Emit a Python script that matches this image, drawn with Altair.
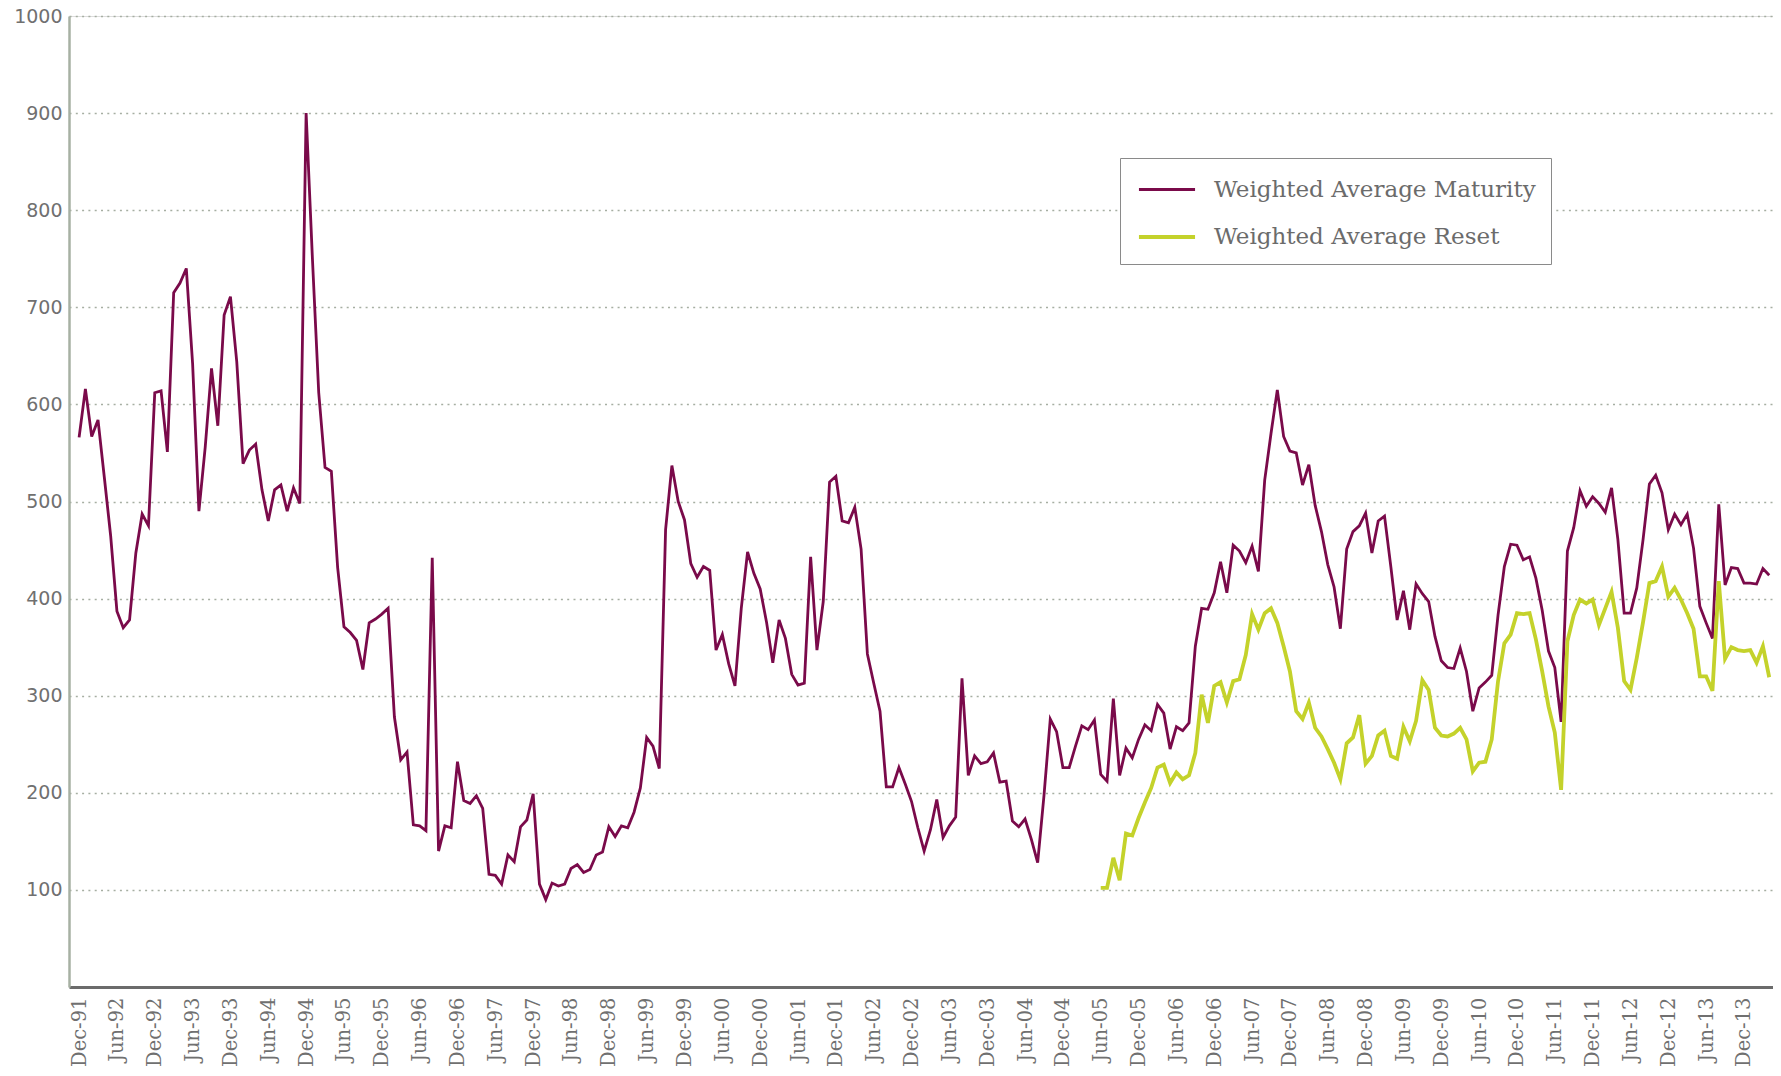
import altair as alt
import pandas as pd

# Weighted Average Maturity, monthly from Dec-91 (index 0) to Apr-14
maturity = [
    566, 616, 567, 584, 525, 465, 387, 370, 378, 447, 487, 475,
    612, 614, 551, 715, 725, 740, 642, 490, 556, 637, 578, 692,
    711, 644, 539, 553, 559, 512, 480, 512, 517, 490, 514, 498,
    900, 750, 612, 535, 531, 432, 371, 365, 357, 327, 375, 379,
    384, 390, 278, 234, 242, 167, 166, 161, 442, 140, 166, 164,
    232, 192, 189, 197, 184, 116, 115, 106, 136, 129, 165, 172,
    199, 106, 90, 107, 104, 106, 122, 126, 118, 121, 136, 139,
    165, 155, 166, 164, 180, 205, 257, 248, 225, 471, 537, 500,
    481, 436, 422, 433, 429, 347, 363, 333, 310, 390, 448, 426,
    410, 376, 334, 378, 359, 322, 311, 313, 443, 347, 397, 520,
    526, 480, 478, 494, 451, 343, 313, 284, 206, 206, 226, 209,
    191, 164, 140, 162, 193, 154, 166, 175, 318, 218, 238, 230,
    232, 241, 211, 212, 171, 165, 173, 152, 128, 197, 276, 263,
    226, 226, 248, 269, 265, 275, 219, 212, 297, 218, 246, 236,
    255, 270, 264, 291, 282, 245, 268, 264, 272, 351, 390, 389,
    406, 438, 406, 455, 449, 437, 454, 428, 522, 570, 615, 567,
    552, 550, 517, 538, 496, 469, 435, 412, 369, 451, 469, 475,
    488, 447, 480, 485, 433, 378, 408, 368, 415, 405, 397, 361,
    336, 329, 328, 349, 325, 284, 308, 314, 321, 383, 433, 456,
    455, 440, 443, 421, 388, 346, 329, 273, 449, 473, 511, 495,
    505, 498, 489, 514, 461, 385, 385, 411, 461, 518, 527, 509,
    471, 487, 476, 487, 452, 392, 375, 359, 497, 414, 432, 431,
    416, 416, 415, 431, 424,
]

# Weighted Average Reset, monthly from Jun-05 (index 162) to Apr-14
reset_start = 162
reset = [
    102, 102, 133, 110, 158, 156, 174, 190, 205, 226, 229, 210,
    221, 214, 218, 241, 301, 272, 310, 314, 293, 315, 317, 342,
    384, 368, 385, 390, 375, 351, 325, 284, 276, 293, 267, 258,
    245, 231, 214, 251, 257, 280, 230, 238, 259, 264, 238, 235,
    268, 253, 274, 316, 306, 267, 259, 258, 261, 267, 255, 222,
    231, 232, 255, 315, 354, 363, 385, 384, 385, 358, 325, 289,
    262, 203, 356, 383, 399, 395, 399, 373, 390, 407, 370, 315,
    306, 339, 376, 416, 418, 433, 402, 411, 399, 385, 369, 320,
    320, 305, 418, 338, 350, 347, 346, 347, 334, 351, 319,
]

tick_labels = [
    "Dec-91", "Jun-92", "Dec-92", "Jun-93", "Dec-93", "Jun-94", "Dec-94",
    "Jun-95", "Dec-95", "Jun-96", "Dec-96", "Jun-97", "Dec-97", "Jun-98",
    "Dec-98", "Jun-99", "Dec-99", "Jun-00", "Dec-00", "Jun-01", "Dec-01",
    "Jun-02", "Dec-02", "Jun-03", "Dec-03", "Jun-04", "Dec-04", "Jun-05",
    "Dec-05", "Jun-06", "Dec-06", "Jun-07", "Dec-07", "Jun-08", "Dec-08",
    "Jun-09", "Dec-09", "Jun-10", "Dec-10", "Jun-11", "Dec-11", "Jun-12",
    "Dec-12", "Jun-13", "Dec-13",
]
y_ticks = [100, 200, 300, 400, 500, 600, 700, 800, 900, 1000]

series_names = ["Weighted Average Maturity", "Weighted Average Reset"]
series_colors = ["#7a0a4a", "#c4d22b"]
series_widths = [2.8, 3.8]

rows = []
for i, v in enumerate(maturity):
    rows.append({"m": i, "v": v, "s": series_names[0]})
for i, v in enumerate(reset):
    rows.append({"m": reset_start + i, "v": v, "s": series_names[1]})
df = pd.DataFrame(rows)

label_expr = "[" + ",".join("'%s'" % t for t in tick_labels) + "][round(datum.value / 6)]"

chart = alt.Chart(df).mark_line(strokeJoin="miter", strokeMiterLimit=4).encode(
    x=alt.X(
        "m:Q",
        scale=alt.Scale(domain=[-1.6, len(maturity) - 0.4], nice=False, zero=False),
        axis=alt.Axis(
            values=[6 * i for i in range(len(tick_labels))],
            labelExpr=label_expr,
            labelAngle=-90,
            ticks=False,
            grid=False,
            domainColor="#6b6b6b",
            domainWidth=3,
            labelFont="DejaVu Serif",
            labelFontSize=19.5,
            labelColor="#707070",
            labelPadding=10,
            labelOverlap=False,
            labelBound=False,
            title=None,
        ),
    ),
    y=alt.Y(
        "v:Q",
        scale=alt.Scale(domain=[0, 1000], nice=False),
        axis=alt.Axis(
            values=y_ticks,
            format="d",
            grid=True,
            gridDash=[2, 4.3],
            gridColor="#a6aea2",
            gridWidth=1.6,
            domainColor="#a7b1a3",
            domainWidth=2.5,
            ticks=False,
            labelFont="DejaVu Sans",
            labelFontSize=19,
            labelColor="#707070",
            labelPadding=7,
            title=None,
        ),
    ),
    color=alt.Color(
        "s:N",
        scale=alt.Scale(domain=series_names, range=series_colors),
        legend=alt.Legend(
            orient="none",
            legendX=1051,
            legendY=142,
            title=None,
            symbolType="M-1.87,0H1.87",
            symbolSize=900,
            symbolStrokeWidth=3,
            symbolOffset=15,
            labelFont="DejaVu Serif",
            labelFontSize=23,
            labelColor="#6b6b6b",
            labelOffset=30,
            labelLimit=0,
            strokeColor="#8a8a8a",
            fillColor="white",
            padding=15,
            rowPadding=18,
        ),
    ),
    strokeWidth=alt.StrokeWidth(
        "s:N",
        scale=alt.Scale(domain=series_names, range=series_widths),
        legend=None,
    ),
).properties(
    width=1704,
    height=971,
    padding={"left": 61, "top": 8, "right": 0, "bottom": 79},
    autosize=alt.AutoSizeParams(type="none"),
).configure_view(stroke=None).configure(background="white")

chart.save("out.html", embed_options={"renderer": "svg", "actions": False})
